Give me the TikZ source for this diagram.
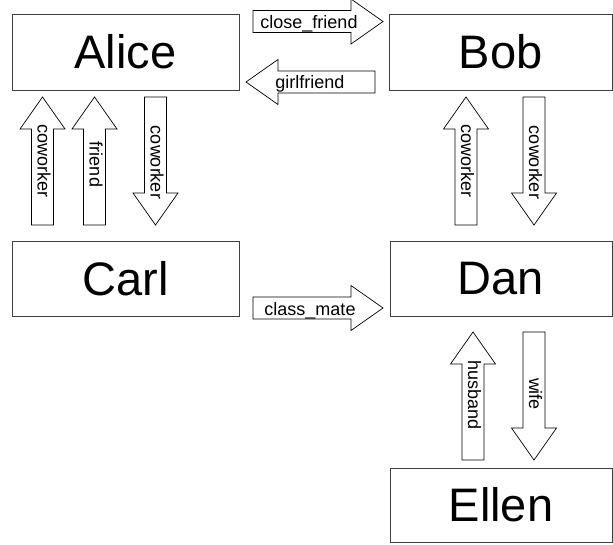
\documentclass[tikz,border=0pt]{standalone}
\usepackage{fontspec}
\setmainfont{Liberation Sans}
\begin{document}
\begin{tikzpicture}[x=1pt,y=-1pt,
  person/.style={draw=black!75, line width=0.9pt, fill=white, inner sep=0pt,
    font=\fontsize{47}{50}\selectfont},
  arrowline/.style={draw=black, line width=0.7pt, fill=white, line join=miter},
  blockarr/.pic={\path[arrowline] (0,-11) -- ({#1-32},-11) -- ({#1-32},-22.5) -- (#1,0)
     -- ({#1-32},22.5) -- ({#1-32},11) -- (0,11) -- cycle;},
  lab/.style={inner sep=0pt, font=\fontsize{18}{20}\selectfont},
  vlab/.style={lab, rotate=-90, anchor=center}]
\useasboundingbox (0,0) rectangle (613,544);
% persons
\node[person, minimum width=227pt, minimum height=76pt] (alice) at (125.5,52) {Alice};
\node[person, minimum width=223pt, minimum height=76pt] (bob) at (500.5,52) {Bob};
\node[person, minimum width=227pt, minimum height=75pt] (carl) at (125.5,278.5) {Carl};
\node[person, minimum width=222pt, minimum height=75pt] (dan) at (501,278.5) {Dan};
\node[person, minimum width=222pt, minimum height=74pt] (ellen) at (501,505) {Ellen};
% horizontal arrows
\pic at (253,21.5) {blockarr=130};
\node[lab, anchor=base] (lcf) at (309,28.3) {close\_friend};
\pic[rotate=180] at (375,82) {blockarr=129};
\node[lab, anchor=base] (lgf) at (310,88.3) {girlfriend};
\pic at (253,308) {blockarr=130};
\node[lab, anchor=base] (lcm) at (310,315) {class\_mate};
% vertical arrows Alice - Carl
\pic[rotate=90] at (42.5,225) {blockarr=128};
\node[vlab] (lcw1) at (44,161) {coworker};
\pic[rotate=90] at (94.5,225) {blockarr=128};
\node[vlab] (lfr) at (96,164.5) {friend};
\pic[rotate=-90] at (155.5,97) {blockarr=128};
\node[vlab] (lcw2) at (157,162.5) {coworker};
% vertical arrows Bob - Dan
\pic[rotate=90] at (466,225) {blockarr=128};
\node[vlab] (lcw3) at (467.5,161) {coworker};
\pic[rotate=-90] at (534,97) {blockarr=128};
\node[vlab] (lcw4) at (535.5,162.5) {coworker};
% vertical arrows Dan - Ellen
\pic[rotate=90] at (473,460) {blockarr=128};
\node[vlab] (lhb) at (474.5,395) {husband};
\pic[rotate=-90] at (534,332) {blockarr=128};
\node[vlab] (lwf) at (535.5,394) {wife};
\end{tikzpicture}
\end{document}
